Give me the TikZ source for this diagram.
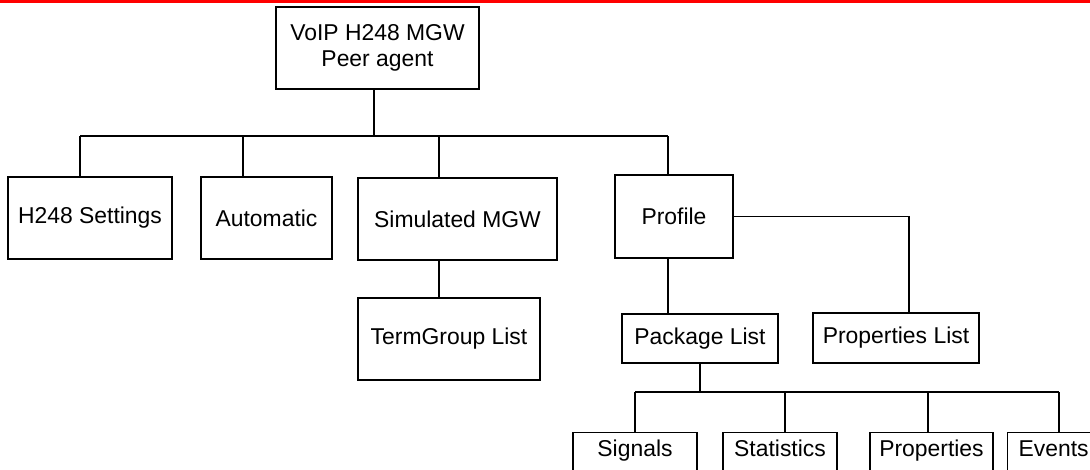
\documentclass[tikz,border=0pt]{standalone}
\usepackage{fontspec}
\setmainfont{Liberation Sans}
\begin{document}
\begin{tikzpicture}[x=1pt,y=-1pt,
  box/.style={draw, line width=1.1pt, inner sep=0pt, align=center,
    font=\fontsize{22.9}{26}\selectfont},
  lowbox/.style={box, anchor=north, inner ysep=8pt, text height=16.4pt, text depth=24pt},
  wire/.style={line width=1.1pt}]
\useasboundingbox (0,0) rectangle (1090,469);
\clip (0,0) rectangle (1090,469);
\fill[red] (0,0) rectangle (1090,2.5);

\node[box, minimum width=203pt, minimum height=82pt] (root) at (377.5,48) {VoIP H248 MGW\\Peer agent};
\node[box, minimum width=164pt, minimum height=82pt] (h248) at (90,218) {H248 Settings};
\node[box, minimum width=131pt, minimum height=82pt] (auto) at (266.5,218) {Automatic};
\node[box, minimum width=199pt, minimum height=82pt] (sim) at (457.5,219) {Simulated MGW};
\node[box, minimum width=182pt, minimum height=82pt] (term) at (449,339) {TermGroup List};
\node[box, minimum width=118pt, minimum height=83pt] (prof) at (674,216.5) {Profile};
\node[box, minimum width=156pt, minimum height=49pt] (pkg) at (700,338.5) {Package List};
\node[box, minimum width=166pt, minimum height=50pt] (plist) at (896,338) {Properties List};

\node[lowbox, minimum width=124pt] (sig) at (635,432) {Signals};
\node[lowbox, minimum width=114pt] (stat) at (780,432) {Statistics};
\node[lowbox, minimum width=123pt] (prop) at (931.5,432) {Properties};
\node[lowbox, inner xsep=11pt, anchor=north west] (ev) at (1007,432) {Events};

\coordinate (b0) at (374,136);
\coordinate (bL) at (80,136);
\coordinate (bA) at (243,136);
\coordinate (bS) at (439,136);
\coordinate (bR) at (668,136);
\coordinate (pr) at (909,217);
\coordinate (s0) at (700,392);
\coordinate (sL) at (635,392);
\coordinate (s1) at (785,392);
\coordinate (s2) at (928,392);
\coordinate (sR) at (1059,392);

\draw[wire] (root.south -| b0) -- (b0);
\draw[wire] (bL) -- (bR);
\draw[wire] (bL) -- (bL |- h248.north);
\draw[wire] (bA) -- (bA |- auto.north);
\draw[wire] (bS) -- (bS |- sim.north);
\draw[wire] (bR) -- (bR |- prof.north);
\draw[wire] (bS |- sim.south) -- (bS |- term.north);
\draw[wire] (bR |- prof.south) -- (bR |- pkg.north);
\draw[wire] (prof.east) -| (pr |- plist.north);
\draw[wire] (pkg.south -| s0) -- (s0);
\draw[wire] (sL) -- (sR);
\draw[wire] (sL) -- (sL |- sig.north);
\draw[wire] (s1) -- (s1 |- stat.north);
\draw[wire] (s2) -- (s2 |- prop.north);
\draw[wire] (sR) -- (sR |- ev.north);
\end{tikzpicture}
\end{document}
